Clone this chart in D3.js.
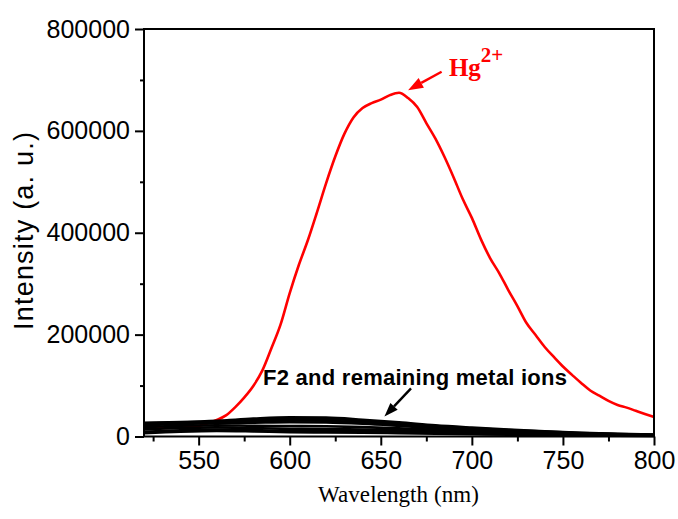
<!DOCTYPE html>
<html>
<head>
<meta charset="utf-8">
<script src="https://cdn.jsdelivr.net/npm/d3@7"></script>
<style>
  body { margin: 0; background: #fff; }
  svg { display: block; }
</style>
</head>
<body>
<div class="chart"></div>
<script>
// Hg2+ spectrum (red)
const hgWave = [520, 525, 530, 535, 540, 545, 550, 555, 560, 565, 570, 575, 580, 585, 590, 595,
  600, 605, 610, 615, 620, 625, 630, 635, 640, 645, 650, 655, 660, 665, 670, 675, 680, 685,
  690, 695, 700, 705, 710, 715, 720, 725, 730, 735, 740, 745, 750, 755, 760, 765, 770, 775,
  780, 785, 790, 795, 800];
const hgIntensity = [16700, 16500, 16900, 17200, 17700, 18600, 20600, 26000, 32400, 41400, 57300,
  76300, 99100, 129700, 173700, 220200, 281600, 336600, 385700, 440600, 497500, 549600, 594100,
  626500, 644800, 654600, 661400, 670200, 674800, 664400, 646700, 615300, 584700, 548600, 508500,
  466100, 429200, 387000, 350300, 320900, 287500, 256100, 222800, 199200, 175700, 156100, 137400,
  121000, 105000, 90300, 80100, 70000, 62000, 56700, 50400, 44200, 38300];

// F2 and remaining metal ions (black)
const ionWave = [520, 540, 560, 580, 600, 620, 640, 660, 680, 700, 720, 740, 760, 780, 800];
const ionA = [27000, 28500, 31000, 35000, 37500, 37000, 33000, 28000, 22000, 17500, 13500, 10000, 7500, 5500, 4000];
const ionB = [26000, 27500, 30000, 33000, 35000, 34500, 31000, 26000, 20500, 16000, 12500, 9500, 7000, 5000, 3500];
const ionC = [24000, 26000, 28000, 30000, 31500, 31000, 28000, 23500, 18500, 14500, 11000, 8500, 6000, 4500, 3000];
const ionD = [22000, 24500, 26000, 27000, 28000, 27500, 25000, 21000, 16500, 13000, 10000, 7500, 5500, 4000, 2800];
const ionE = [18000, 21000, 22000, 21000, 20500, 20000, 18500, 16000, 13000, 10500, 8000, 6000, 4500, 3200, 2200];
const ionF = [14000, 17000, 18000, 16500, 15000, 14500, 13500, 12000, 10000, 8000, 6200, 4800, 3500, 2500, 1800];
const ionG = [9000, 12000, 13500, 12500, 11000, 10500, 10000, 9000, 7500, 6000, 4800, 3600, 2700, 2000, 1500];
const ionH = [6500, 9500, 11000, 10000, 8500, 8000, 7500, 6500, 5500, 4500, 3500, 2600, 2000, 1500, 1200];
const ionSeries = [ionA, ionB, ionC, ionD, ionE, ionF, ionG, ionH];

const xMajor = [550, 600, 650, 700, 750, 800];
const xMinor = [525, 575, 625, 675, 725, 775];
const yMajor = [0, 200000, 400000, 600000, 800000];
const yMinor = [100000, 300000, 500000, 700000];

const W = 678, H = 519;
const margin = { left: 144, right: 24, top: 29, bottom: 82.5 };
const width = W - margin.left - margin.right,
    height = H - margin.top - margin.bottom;

const sans = "'Liberation Sans', Arial, sans-serif";
const serif = "'Liberation Serif', 'Times New Roman', serif";

const svg = d3.select(".chart").append("svg")
    .attr("width", W)
    .attr("height", H);

const g = svg.append("g")
    .attr("transform", `translate(${margin.left},${margin.top})`);

const xScale = d3.scaleLinear().domain([520, 800]).range([0, width]);
const yScale = d3.scaleLinear().domain([0, 800000]).range([height, 0]);

// curves
const smooth = d3.line()
    .x(d => xScale(d[0]))
    .y(d => yScale(d[1]))
    .curve(d3.curveMonotoneX);

g.append("path")
    .datum(hgWave.map((w, i) => [w, hgIntensity[i]]))
    .attr("fill", "none")
    .attr("stroke", "#ff0000")
    .attr("stroke-width", 2.6)
    .attr("stroke-linejoin", "round")
    .attr("d", smooth);

g.append("g")
    .selectAll("path")
    .data(ionSeries)
    .enter()
    .append("path")
    .attr("fill", "none")
    .attr("stroke", "black")
    .attr("stroke-width", 2.6)
    .attr("d", s => smooth(ionWave.map((w, i) => [w, s[i]])));

// axes
const xAxis = d3.axisBottom(xScale).tickValues(xMajor).tickSize(9).tickPadding(6).tickFormat(d3.format("d"));
const yAxis = d3.axisLeft(yScale).tickValues(yMajor).tickSize(9).tickPadding(5).tickFormat(d3.format("d"));

g.append("g")
    .attr("transform", `translate(0,${height})`)
    .call(xAxis)
    .call(a => a.select(".domain").remove())
    .call(a => a.selectAll("text").attr("font-size", 25).attr("font-family", sans).attr("fill", "black"))
    .call(a => a.selectAll("line").attr("stroke-width", 2));

g.append("g")
    .attr("transform", `translate(0,${height})`)
    .call(d3.axisBottom(xScale).tickValues(xMinor).tickSize(5).tickFormat(""))
    .call(a => a.select(".domain").remove())
    .call(a => a.selectAll("line").attr("stroke-width", 2));

g.append("g")
    .call(yAxis)
    .call(a => a.select(".domain").remove())
    .call(a => a.selectAll("text").attr("font-size", 25).attr("font-family", sans).attr("fill", "black"))
    .call(a => a.selectAll("line").attr("stroke-width", 2));

g.append("g")
    .call(d3.axisLeft(yScale).tickValues(yMinor).tickSize(4).tickFormat(""))
    .call(a => a.select(".domain").remove())
    .call(a => a.selectAll("line").attr("stroke-width", 2));

// frame
g.append("path")
    .attr("d", `M0,${height}V0H${width}V${height}H0`)
    .attr("fill", "none")
    .attr("stroke", "black")
    .attr("stroke-width", 2);

// axis titles
svg.append("text")
    .attr("transform", "translate(33,330) rotate(-90)")
    .attr("font-family", sans)
    .attr("font-size", 27)
    .attr("textLength", 198)
    .text("Intensity (a. u.)");

svg.append("text")
    .attr("x", 318)
    .attr("y", 502)
    .attr("font-family", serif)
    .attr("font-size", 23)
    .attr("textLength", 161)
    .text("Wavelength (nm)");

// annotations
function arrow(from, to, color, headLen, headW) {
    const x1 = xScale(from[0]), y1 = yScale(from[1]);
    const x2 = xScale(to[0]), y2 = yScale(to[1]);
    const ang = Math.atan2(y2 - y1, x2 - x1);
    const bx = x2 - headLen * Math.cos(ang), by = y2 - headLen * Math.sin(ang);
    const px = Math.sin(ang) * headW / 2, py = -Math.cos(ang) * headW / 2;
    g.append("line")
        .attr("x1", x1).attr("y1", y1).attr("x2", bx).attr("y2", by)
        .attr("stroke", color).attr("stroke-width", 2.4);
    g.append("path")
        .attr("d", `M${x2},${y2}L${bx + px},${by + py}L${bx - px},${by - py}Z`)
        .attr("fill", color);
}

arrow([683.4, 716000], [665, 680000], "#ff0000", 15, 11);
arrow([666.6, 94600], [652, 39250], "black", 14, 10);

const hg = g.append("text")
    .attr("x", xScale(687.4))
    .attr("y", yScale(707600))
    .attr("font-family", serif)
    .attr("font-weight", "bold")
    .attr("font-size", 25)
    .attr("fill", "#ff0000");
hg.append("tspan").text("Hg");
hg.append("tspan").attr("dy", -14).attr("font-size", 21).text("2+");

g.append("text")
    .attr("x", xScale(585.3))
    .attr("y", yScale(101000))
    .attr("font-family", sans)
    .attr("font-weight", "bold")
    .attr("font-size", 22)
    .attr("textLength", 304)
    .text("F2 and remaining metal ions");
</script>
</body>
</html>
